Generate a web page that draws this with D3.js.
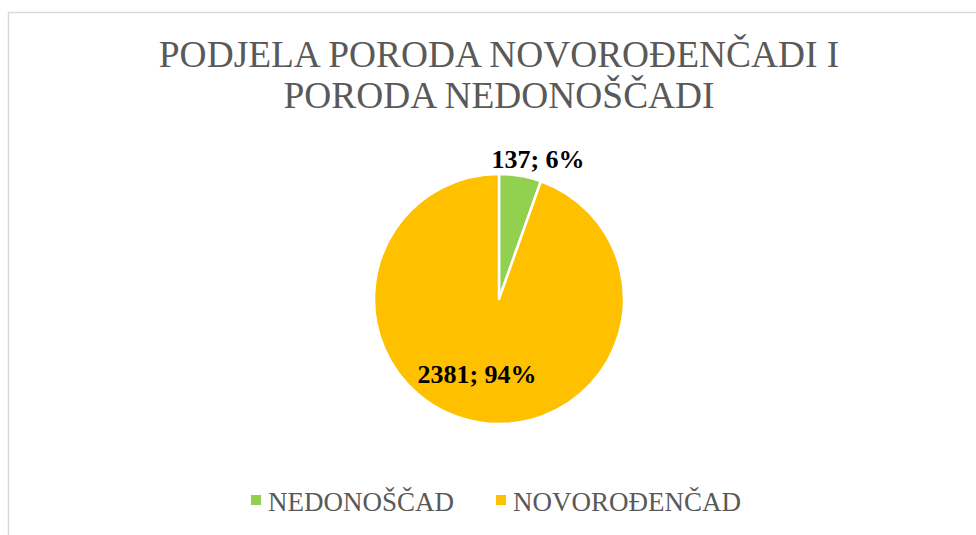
<!DOCTYPE html>
<html>
<head>
<meta charset="utf-8">
<script src="https://cdn.jsdelivr.net/npm/d3@7"></script>
<style>
  body { margin: 0; background: #fff; }
  svg { display: block; font-family: "Liberation Serif", "Times New Roman", serif; }
</style>
</head>
<body>
<svg width="976" height="535"></svg>
<script>
// data
var categories = ["NEDONOŠČAD", "NOVOROĐENČAD"];
var values = [137, 2381];
var percents = [6, 94];
var colors = ["#92D050", "#FFC000"];
var titleLines = ["PODJELA PORODA NOVOROĐENČADI I", "PORODA NEDONOŠČADI"];

var svg = d3.select("svg");

// chart frame (clipped on right / bottom like the screenshot)
svg.append("rect")
    .attr("x", 8.5).attr("y", 12.5)
    .attr("width", 1000).attr("height", 600)
    .attr("fill", "#fff")
    .attr("stroke", "#d9d9d9")
    .attr("stroke-width", 1.5);

svg.append("g").selectAll("text")
    .data(titleLines)
  .enter().append("text")
    .attr("x", 499)
    .attr("y", function(d, i) { return 67 + i * 41; })
    .attr("text-anchor", "middle")
    .attr("fill", "#595959")
    .style("font-size", "37.4px")
    .text(function(d) { return d; });

var cx = 499, cy = 299, r = 125;

var pie = d3.pie().sort(null)(values);
var arc = d3.arc().innerRadius(0).outerRadius(r);

var g = svg.append("g").attr("transform", "translate(" + cx + "," + cy + ")");

g.selectAll("path")
    .data(pie)
  .enter().append("path")
    .attr("d", arc)
    .attr("fill", function(d, i) { return colors[i]; })
    .attr("stroke", "#fff")
    .attr("stroke-width", 2.5)
    .attr("stroke-linejoin", "round");

// data labels
var labelPos = [[39, -131], [-22, 84]];
g.selectAll("text.lbl")
    .data(pie)
  .enter().append("text")
    .attr("class", "lbl")
    .attr("x", function(d, i) { return labelPos[i][0]; })
    .attr("y", function(d, i) { return labelPos[i][1]; })
    .attr("text-anchor", "middle")
    .attr("fill", "#000")
    .style("font-size", "26px")
    .style("font-weight", "bold")
    .text(function(d, i) { return values[i] + "; " + percents[i] + "%"; });

// legend
var legendX = [251, 496];
var leg = svg.append("g").selectAll("g")
    .data(categories)
  .enter().append("g")
    .attr("transform", function(d, i) { return "translate(" + legendX[i] + ",0)"; });

leg.append("rect")
    .attr("x", 0).attr("y", 495)
    .attr("width", 10).attr("height", 10)
    .attr("fill", function(d, i) { return colors[i]; });

leg.append("text")
    .attr("x", 17).attr("y", 510.5)
    .attr("fill", "#595959")
    .style("font-size", "27px")
    .text(function(d) { return d; });
</script>
</body>
</html>
